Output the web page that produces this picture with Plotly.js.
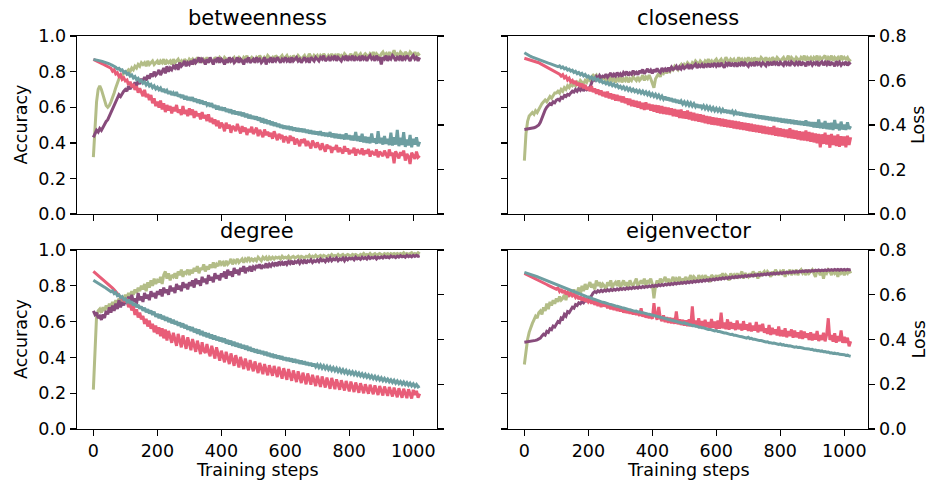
<!DOCTYPE html>
<html>
<head>
<meta charset="utf-8">
<script src="https://cdn.plot.ly/plotly-3.0.1.min.js"></script>
<style>
html,body{margin:0;padding:0;background:#fff;}
#chart{width:930px;height:484px;}
</style>
</head>
<body>
<div id="chart"></div>
<script>
// ---------- data ----------
const panelTitles = ["betweenness", "closeness", "degree", "eigenvector"];
const xTickVals = [0, 200, 400, 600, 800, 1000];
const accTickVals = [0.0, 0.2, 0.4, 0.6, 0.8, 1.0];
const lossTickVals = [0.0, 0.2, 0.4, 0.6, 0.8];

// training steps at which values were read (every 5 steps)
const steps = [0,5,10,15,20,25,30,35,40,45,50,55,60,65,70,75,80,85,90,95,100,105,110,115,120,125,130,135,140,145,150,155,160,165,170,175,180,185,190,195,200,205,210,215,220,225,230,235,240,245,250,255,260,265,270,275,280,285,290,295,300,305,310,315,320,325,330,335,340,345,350,355,360,365,370,375,380,385,390,395,400,405,410,415,420,425,430,435,440,445,450,455,460,465,470,475,480,485,490,495,500,505,510,515,520,525,530,535,540,545,550,555,560,565,570,575,580,585,590,595,600,605,610,615,620,625,630,635,640,645,650,655,660,665,670,675,680,685,690,695,700,705,710,715,720,725,730,735,740,745,750,755,760,765,770,775,780,785,790,795,800,805,810,815,820,825,830,835,840,845,850,855,860,865,870,875,880,885,890,895,900,905,910,915,920,925,930,935,940,945,950,955,960,965,970,975,980,985,990,995,1000,1005,1010,1015,1020];

// ---- betweenness ----
const accTrainBetweenness = [.32,.50,.63,.70,.72,.70,.67,.64,.61,.60,.61, .63,.65,.68,.71,.74,.76,.77,.78,.79,.80, .80,.81,.80,.82,.81,.83,.82,.84,.83,.85,
 .84,.85,.83,.86,.84,.85,.86,.84,.85,.86, .84,.86,.85,.87,.84,.86,.85,.86,.84,.87, .85,.86,.87,.85,.86,.84,.87,.86,.85,.87,
 .86,.87,.85,.86,.88,.86,.87,.85,.87,.86, .88,.86,.87,.86,.85,.88,.87,.86,.88,.87, .86,.88,.87,.85,.88,.86,.87,.88,.86,.87,
 .88,.87,.86,.88,.87,.89,.86,.87,.88,.87, .86,.88,.87,.89,.87,.86,.88,.87,.89,.88, .87,.88,.86,.89,.88,.87,.88,.89,.87,.88,
 .89,.87,.88,.86,.89,.88,.87,.89,.88,.87, .88,.89,.87,.88,.90,.88,.87,.89,.88,.89, .87,.89,.88,.90,.88,.87,.89,.88,.90,.88,
 .89,.87,.90,.88,.89,.88,.90,.89,.87,.89, .90,.88,.89,.91,.88,.89,.90,.88,.89,.90, .89,.88,.90,.89,.91,.88,.90,.89,.88,.90,
 .91,.89,.90,.88,.91,.89,.90,.92,.89,.90, .89,.91,.90,.88,.91,.90,.89,.91,.90,.89, .91,.89,.90,.89];
const accValBetweenness = [.43,.45,.47,.46,.48,.47,.49,.50,.52,.53,.55, .57,.59,.61,.64,.65,.67,.66,.68,.69,.70, .69,.72,.70,.73,.71,.74,.72,.75,.73,.76,
 .74,.77,.75,.78,.76,.79,.77,.80,.78,.79, .81,.78,.80,.82,.79,.83,.80,.82,.81,.83, .82,.84,.81,.85,.83,.84,.86,.83,.85,.84,
 .86,.84,.87,.85,.86,.88,.85,.87,.86,.84, .87,.85,.88,.86,.84,.87,.86,.88,.85,.87, .86,.84,.87,.85,.88,.86,.87,.85,.86,.88,
 .85,.87,.86,.84,.87,.86,.88,.85,.86,.87, .85,.88,.86,.87,.85,.86,.88,.84,.87,.86, .88,.85,.87,.86,.88,.86,.85,.87,.86,.88,
 .86,.87,.85,.88,.86,.87,.88,.86,.87,.85, .87,.88,.86,.87,.85,.88,.87,.86,.88,.87, .86,.88,.87,.89,.86,.87,.88,.86,.88,.87,
 .89,.86,.88,.87,.86,.88,.87,.89,.86,.88, .87,.89,.86,.88,.87,.88,.86,.89,.87,.88, .86,.88,.89,.87,.88,.86,.89,.87,.88,.84,
 .88,.87,.89,.86,.88,.87,.89,.88,.86,.88, .87,.89,.86,.88,.87,.89,.87,.86,.88,.89, .87,.88,.86,.88];
const lossTrainBetweenness = [.695,.692,.689,.685,.682,.678,.674,.670,.666,.661,.656, .655,.642,.648,.630,.635,.618,.626,.605,.612,.598, .602,.580,.595,.570,.585,.558,.575,.545,.565,.548,
 .530,.558,.525,.540,.512,.535,.498,.520,.485,.505, .478,.510,.470,.498,.458,.490,.465,.485,.452,.480, .462,.490,.455,.470,.445,.485,.450,.468,.440,.475,
 .445,.470,.432,.462,.440,.452,.425,.458,.430,.445, .418,.448,.412,.432,.405,.425,.395,.420,.385,.410, .398,.372,.410,.385,.402,.365,.395,.388,.372,.405,
 .380,.362,.395,.370,.388,.355,.382,.368,.392,.360, .372,.388,.350,.378,.362,.345,.380,.355,.370,.348, .365,.338,.372,.350,.332,.360,.345,.355,.322,.348,
 .340,.318,.352,.330,.345,.312,.338,.325,.305,.335, .320,.338,.305,.328,.312,.295,.330,.310,.298,.322, .305,.288,.318,.298,.280,.312,.295,.305,.275,.300,
 .290,.310,.278,.298,.285,.272,.305,.282,.295,.268, .288,.275,.298,.262,.290,.280,.270,.295,.265,.285, .272,.292,.258,.282,.275,.265,.290,.255,.280,.270,
 .260,.285,.268,.252,.290,.262,.275,.228,.282,.265, .250,.278,.262,.285,.240,.270,.258,.225,.275,.262, .248,.280,.255,.262];
const lossValBetweenness = [.695,.694,.692,.690,.689,.687,.685,.683,.681,.678,.675, .671,.668,.662,.660,.652,.655,.645,.648,.636,.640, .628,.632,.620,.625,.612,.618,.604,.610,.596,.600,
 .588,.594,.580,.590,.575,.582,.568,.576,.562,.570, .558,.566,.550,.562,.545,.555,.540,.552,.535,.545, .532,.548,.528,.538,.522,.535,.515,.530,.512,.525,
 .510,.525,.505,.518,.500,.514,.496,.510,.492,.505, .490,.500,.482,.498,.478,.490,.470,.486,.468,.480, .465,.478,.460,.472,.455,.470,.450,.465,.448,.460,
 .445,.458,.440,.455,.435,.450,.430,.446,.428,.440, .425,.438,.420,.434,.412,.430,.408,.425,.405,.420, .400,.415,.396,.410,.392,.405,.388,.400,.384,.396,
 .382,.395,.378,.392,.375,.388,.372,.386,.370,.384, .368,.382,.365,.378,.362,.376,.360,.372,.358,.370, .355,.372,.352,.366,.350,.364,.348,.368,.345,.362,
 .342,.360,.340,.358,.338,.356,.335,.362,.336,.354, .332,.352,.330,.368,.328,.350,.325,.360,.322,.348, .320,.345,.318,.362,.322,.340,.315,.372,.318,.342,
 .312,.350,.315,.338,.310,.365,.308,.345,.312,.378, .305,.342,.310,.368,.302,.335,.308,.355,.300,.338, .312,.345,.305,.325];

// ---- closeness ----
const accTrainCloseness = [.30,.45,.52,.55,.56,.57,.56,.58,.57,.59,.60, .62,.63,.64,.63,.65,.66,.65,.67,.68,.68, .69,.68,.70,.69,.71,.70,.72,.71,.73,.72,
 .73,.72,.74,.73,.75,.74,.73,.75,.74,.76, .75,.77,.78,.77,.78,.76,.77,.75,.76,.77, .75,.76,.74,.77,.75,.76,.74,.76,.75,.77,
 .74,.76,.75,.77,.74,.76,.75,.77,.76,.75, .77,.75,.76,.78,.75,.77,.76,.78,.76,.73, .71,.76,.78,.79,.77,.80,.79,.81,.79,.81,
 .80,.82,.81,.83,.82,.81,.83,.84,.82,.84, .83,.85,.84,.83,.85,.84,.86,.85,.84,.86, .85,.84,.86,.85,.87,.85,.86,.84,.86,.87,
 .85,.86,.87,.85,.86,.88,.86,.85,.87,.86, .87,.85,.86,.88,.86,.87,.85,.87,.86,.88, .86,.87,.85,.88,.86,.87,.86,.88,.87,.86,
 .88,.86,.87,.85,.88,.87,.86,.88,.87,.86, .87,.88,.86,.87,.89,.86,.88,.87,.86,.88, .87,.86,.88,.87,.89,.86,.88,.87,.88,.86,
 .88,.87,.89,.86,.88,.87,.88,.89,.86,.88, .87,.89,.86,.88,.87,.88,.86,.89,.87,.88, .87,.88,.86,.87];
const accValCloseness = [.475,.476,.478,.477,.480,.482,.484,.488,.492,.500,.515, .540,.560,.585,.600,.610,.620,.615,.630,.625,.640, .645,.638,.655,.650,.665,.660,.672,.668,.680,.690,
 .685,.700,.690,.705,.695,.710,.692,.706,.698,.704, .712,.735,.760,.752,.772,.760,.778,.765,.775,.770, .785,.768,.780,.792,.770,.785,.775,.795,.778,.788,
 .772,.795,.785,.800,.778,.792,.785,.805,.788,.796, .782,.805,.792,.812,.788,.800,.815,.795,.808,.790, .812,.798,.818,.802,.795,.820,.805,.815,.800,.822,
 .808,.825,.812,.818,.830,.810,.826,.815,.832,.818, .825,.835,.815,.838,.822,.830,.842,.820,.836,.828, .840,.822,.838,.830,.845,.825,.840,.832,.848,.830,
 .842,.828,.850,.835,.822,.846,.836,.852,.830,.844, .835,.850,.828,.845,.838,.855,.832,.848,.840,.830, .852,.838,.846,.832,.856,.840,.848,.835,.850,.842,
 .832,.855,.840,.848,.836,.858,.842,.850,.834,.852, .845,.835,.858,.840,.850,.832,.855,.845,.838,.852, .840,.858,.835,.850,.846,.830,.856,.842,.852,.836,
 .850,.842,.858,.832,.848,.855,.836,.852,.840,.860, .835,.850,.845,.830,.858,.840,.852,.836,.848,.842, .855,.835,.848,.840];
const lossTrainCloseness = [.700,.698,.696,.694,.692,.690,.688,.686,.683,.680,.676, .672,.670,.665,.662,.658,.654,.650,.646,.640,.636, .632,.628,.620,.626,.612,.618,.602,.610,.594,.600,
 .585,.598,.578,.590,.572,.585,.565,.580,.558,.570, .552,.575,.548,.565,.540,.560,.535,.555,.530,.548, .525,.550,.520,.542,.515,.538,.510,.535,.508,.530,
 .502,.528,.498,.520,.490,.518,.485,.512,.482,.508, .478,.505,.472,.500,.468,.502,.470,.495,.465,.492, .460,.490,.455,.488,.452,.485,.450,.480,.448,.478,
 .445,.475,.440,.472,.438,.468,.432,.470,.430,.462, .428,.465,.425,.458,.420,.455,.418,.450,.415,.448, .412,.445,.408,.440,.405,.438,.402,.435,.400,.432,
 .398,.430,.395,.428,.392,.425,.390,.422,.388,.420, .385,.418,.382,.415,.380,.412,.378,.410,.375,.408, .372,.405,.370,.402,.368,.400,.365,.398,.362,.395,
 .360,.392,.358,.390,.355,.395,.352,.388,.350,.385, .348,.382,.345,.380,.342,.385,.340,.378,.338,.375, .335,.372,.332,.370,.330,.375,.328,.368,.325,.365,
 .322,.362,.318,.360,.300,.358,.315,.365,.312,.355, .298,.360,.310,.352,.305,.358,.302,.350,.308,.348, .300,.352,.310,.345];
const lossValCloseness = [.725,.720,.715,.712,.708,.705,.702,.699,.696,.693,.690, .688,.685,.683,.680,.678,.676,.673,.671,.668,.666, .662,.666,.657,.661,.652,.656,.647,.651,.642,.646,
 .636,.641,.631,.636,.626,.632,.621,.627,.616,.620, .610,.616,.605,.612,.600,.606,.595,.601,.590,.594, .585,.592,.581,.588,.577,.584,.573,.580,.568,.574,
 .564,.572,.560,.568,.556,.565,.553,.561,.550,.557, .546,.555,.543,.552,.540,.549,.536,.546,.532,.541, .528,.538,.524,.534,.520,.530,.516,.527,.512,.523,
 .508,.520,.504,.516,.500,.512,.497,.508,.494,.504, .491,.502,.488,.499,.485,.496,.482,.493,.478,.490, .476,.487,.473,.484,.470,.481,.467,.478,.464,.475,
 .462,.473,.459,.470,.456,.468,.454,.466,.451,.462, .449,.460,.446,.458,.444,.456,.441,.453,.438,.450, .436,.449,.434,.447,.431,.444,.429,.442,.427,.440,
 .424,.438,.422,.436,.419,.434,.417,.432,.415,.430, .412,.428,.410,.426,.408,.424,.406,.422,.404,.420, .402,.418,.400,.416,.398,.420,.396,.414,.394,.412,
 .390,.412,.388,.425,.386,.410,.384,.418,.382,.408, .380,.410,.378,.422,.383,.405,.376,.415,.380,.402, .378,.412,.382,.395];

// ---- degree ----
const accTrainDegree = [.22,.40,.63,.66,.67,.65,.68,.66,.69,.67,.70, .68,.71,.69,.72,.70,.73,.71,.74,.72,.75, .73,.76,.74,.77,.75,.78,.76,.79,.77,.80,
 .78,.81,.77,.82,.79,.83,.80,.84,.81,.83, .82,.85,.81,.86,.88,.84,.87,.83,.86,.85, .87,.84,.88,.86,.89,.85,.88,.87,.89,.86,
 .89,.87,.90,.88,.91,.87,.90,.89,.92,.88, .91,.89,.92,.90,.93,.90,.92,.91,.94,.92, .93,.91,.94,.92,.93,.95,.92,.94,.93,.95,
 .93,.94,.95,.93,.95,.94,.96,.94,.95,.94, .95,.94,.96,.95,.94,.96,.95,.96,.94,.96, .95,.96,.95,.96,.955,.96,.95,.965,.955,.96,
 .955,.965,.95,.96,.965,.955,.96,.965,.955,.965, .96,.955,.965,.96,.97,.955,.965,.96,.97,.96, .965,.97,.96,.97,.965,.96,.97,.965,.975,.965,
 .97,.965,.975,.965,.97,.975,.965,.97,.975,.97, .965,.975,.97,.975,.97,.965,.975,.97,.98,.97, .975,.97,.98,.97,.975,.98,.97,.975,.98,.975,
 .97,.98,.975,.98,.97,.98,.975,.98,.975,.98, .975,.98,.975,.985,.975,.98,.975,.98,.985,.975, .98,.975,.985,.978];
const accValDegree = [.66,.64,.65,.62,.63,.61,.64,.62,.66,.64,.68, .65,.69,.66,.70,.67,.72,.68,.71,.69,.73, .70,.74,.69,.75,.71,.73,.70,.76,.72,.74,
 .71,.76,.73,.75,.72,.77,.74,.76,.73,.77, .75,.78,.74,.79,.76,.78,.75,.80,.77,.79, .76,.81,.78,.80,.77,.82,.79,.81,.78,.82,
 .80,.83,.79,.84,.81,.83,.80,.85,.82,.84, .81,.86,.83,.85,.82,.87,.84,.86,.83,.87, .85,.88,.84,.89,.86,.88,.85,.90,.87,.89,
 .86,.90,.88,.91,.87,.90,.89,.91,.88,.905, .895,.915,.90,.92,.895,.91,.905,.925,.90,.92, .91,.925,.915,.93,.91,.935,.92,.93,.915,.935,
 .92,.935,.925,.94,.92,.935,.93,.94,.925,.94, .93,.945,.925,.94,.935,.945,.93,.94,.935,.945, .935,.95,.94,.945,.935,.95,.94,.955,.94,.95,
 .945,.955,.94,.95,.945,.955,.94,.955,.945,.955, .95,.955,.945,.96,.95,.955,.948,.96,.952,.958, .95,.962,.952,.958,.955,.962,.95,.96,.955,.962,
 .955,.965,.958,.962,.956,.966,.96,.964,.958,.966, .96,.968,.962,.966,.96,.97,.963,.968,.962,.97, .964,.97,.965,.968];
const lossTrainDegree = [.705,.699,.693,.687,.681,.675,.669,.663,.657,.651,.645, .638,.630,.622,.614,.605,.598,.588,.582,.572,.570, .575,.545,.560,.530,.548,.510,.535,.498,.520,.490,
 .505,.470,.492,.458,.485,.448,.470,.432,.462,.425, .455,.415,.450,.405,.445,.395,.438,.412,.385,.430, .402,.372,.425,.390,.365,.418,.382,.358,.410,.375,
 .352,.402,.368,.345,.395,.360,.335,.388,.350,.340, .380,.345,.325,.372,.338,.315,.365,.330,.305,.350, .322,.298,.345,.315,.290,.338,.305,.282,.330,.298,
 .275,.322,.292,.268,.315,.285,.262,.308,.280,.258, .302,.275,.250,.295,.268,.245,.290,.262,.240,.285, .258,.238,.282,.252,.232,.278,.248,.225,.272,.242,
 .220,.268,.238,.215,.262,.232,.210,.258,.228,.205, .252,.225,.200,.248,.220,.198,.242,.215,.192,.238, .212,.188,.235,.208,.185,.230,.205,.180,.228,.200,
 .178,.222,.198,.175,.218,.192,.172,.215,.188,.168, .212,.185,.165,.208,.182,.162,.205,.180,.160,.200, .178,.158,.198,.175,.155,.195,.172,.152,.192,.170,
 .150,.190,.168,.148,.188,.165,.145,.185,.162,.142, .182,.160,.140,.180,.158,.138,.178,.155,.136,.175, .152,.170,.140,.158];
const lossValDegree = [.665,.661,.656,.652,.647,.643,.638,.634,.629,.625,.620, .614,.618,.605,.610,.596,.600,.588,.592,.578,.582, .568,.578,.560,.570,.552,.562,.545,.555,.538,.548,
 .528,.542,.522,.535,.516,.530,.510,.524,.502,.515, .495,.512,.490,.505,.484,.500,.478,.494,.472,.488, .468,.482,.462,.476,.455,.472,.450,.465,.444,.458,
 .438,.455,.432,.448,.426,.445,.420,.438,.415,.432, .410,.428,.405,.422,.400,.418,.396,.412,.392,.408, .388,.405,.382,.398,.378,.395,.372,.390,.368,.385,
 .364,.380,.360,.375,.355,.372,.350,.366,.346,.360, .342,.356,.338,.352,.335,.348,.330,.345,.326,.340, .322,.336,.318,.332,.315,.328,.312,.325,.308,.320,
 .305,.318,.302,.315,.298,.312,.296,.308,.292,.305, .290,.302,.286,.298,.284,.295,.280,.292,.278,.288, .275,.286,.272,.283,.269,.280,.266,.277,.263,.274,
 .260,.271,.257,.268,.254,.265,.251,.262,.248,.258, .246,.256,.243,.253,.240,.250,.237,.247,.234,.244, .231,.241,.228,.238,.225,.235,.222,.232,.219,.229,
 .216,.226,.214,.223,.211,.220,.208,.218,.205,.215, .203,.212,.200,.210,.198,.207,.195,.205,.193,.202, .190,.199,.188,.192];

// ---- eigenvector ----
const accTrainEigenvector = [.36,.44,.50,.54,.57,.59,.61,.63,.62,.65,.66, .64,.68,.66,.70,.67,.71,.69,.72,.70,.73, .71,.74,.72,.73,.75,.72,.76,.74,.77,.75,
 .78,.74,.77,.79,.75,.80,.77,.81,.78,.80, .82,.79,.81,.78,.83,.80,.82,.79,.81,.80, .78,.82,.80,.83,.79,.81,.82,.80,.83,.79,
 .81,.83,.80,.82,.79,.83,.81,.80,.82,.84, .80,.82,.83,.81,.84,.80,.83,.82,.84,.81, .73,.80,.83,.81,.84,.82,.83,.85,.82,.84,
 .81,.83,.85,.82,.84,.83,.85,.81,.84,.83, .85,.82,.84,.86,.83,.85,.84,.82,.86,.84, .85,.83,.86,.84,.85,.82,.86,.85,.84,.86,
 .83,.86,.85,.87,.84,.86,.85,.83,.87,.85, .86,.84,.87,.85,.86,.88,.84,.87,.86,.85, .87,.85,.88,.86,.87,.84,.88,.86,.87,.88,
 .86,.88,.87,.85,.88,.86,.89,.87,.86,.88, .87,.89,.85,.88,.87,.89,.86,.88,.87,.89, .86,.88,.89,.87,.88,.86,.89,.87,.88,.89,
 .87,.85,.89,.88,.86,.89,.84,.88,.87,.89, .88,.86,.89,.87,.88,.85,.89,.87,.88,.86, .88,.87,.89,.87];
const accValEigenvector = [.485,.486,.487,.488,.490,.491,.493,.495,.498,.502,.508, .520,.530,.525,.545,.540,.560,.555,.575,.570,.590, .600,.595,.620,.615,.640,.630,.655,.650,.670,.680,
 .675,.695,.690,.705,.700,.712,.705,.718,.715,.725, .730,.745,.760,.768,.762,.772,.766,.775,.768,.776, .770,.778,.772,.780,.774,.781,.776,.783,.777,.784,
 .779,.786,.780,.788,.782,.789,.784,.791,.786,.792, .787,.794,.789,.796,.791,.797,.793,.799,.795,.801, .796,.803,.798,.805,.800,.807,.802,.809,.804,.811,
 .806,.813,.808,.815,.810,.816,.812,.818,.814,.820, .815,.822,.817,.824,.819,.826,.821,.828,.823,.830, .825,.832,.827,.834,.829,.836,.831,.838,.833,.840,
 .835,.842,.837,.844,.839,.846,.841,.848,.843,.850, .845,.852,.847,.853,.849,.855,.851,.857,.852,.858, .854,.860,.855,.862,.857,.863,.859,.865,.860,.866,
 .862,.868,.863,.869,.865,.871,.866,.872,.868,.873, .869,.875,.871,.876,.872,.878,.874,.879,.875,.880, .876,.882,.878,.883,.879,.884,.880,.885,.881,.886,
 .882,.887,.883,.888,.884,.888,.885,.889,.885,.890, .886,.890,.886,.891,.887,.891,.887,.892,.888,.892, .888,.892,.889,.891];
const lossTrainEigenvector = [.695,.692,.688,.685,.681,.678,.674,.671,.667,.664,.660, .656,.653,.649,.646,.642,.639,.635,.632,.628,.625, .630,.615,.625,.608,.620,.602,.612,.598,.608,.595,
 .602,.588,.598,.580,.592,.575,.588,.570,.582,.568, .578,.560,.575,.555,.570,.550,.568,.545,.565,.548, .560,.540,.558,.535,.552,.532,.548,.528,.545,.525,
 .542,.520,.538,.518,.535,.515,.532,.512,.528,.510, .525,.505,.540,.502,.520,.498,.515,.495,.512,.492, .562,.510,.488,.545,.495,.482,.508,.478,.500,.475,
 .498,.472,.495,.470,.525,.468,.490,.465,.488,.462, .485,.460,.490,.458,.548,.462,.485,.455,.495,.452, .482,.450,.488,.455,.478,.448,.492,.452,.480,.446,
 .485,.448,.520,.450,.475,.446,.490,.444,.478,.448, .472,.442,.485,.446,.470,.440,.482,.444,.468,.438, .475,.436,.462,.440,.478,.432,.465,.438,.470,.430,
 .450,.425,.465,.420,.452,.424,.445,.418,.458,.415, .442,.414,.450,.410,.438,.416,.445,.408,.440,.410, .432,.405,.440,.402,.435,.408,.428,.398,.432,.396,
 .425,.400,.438,.393,.420,.398,.430,.392,.422,.495, .398,.420,.390,.428,.386,.415,.392,.440,.385,.412, .385,.408,.370,.392];
const lossValEigenvector = [.700,.698,.696,.693,.691,.688,.686,.683,.681,.678,.675, .673,.669,.667,.663,.661,.657,.655,.651,.648,.645, .643,.639,.637,.633,.630,.627,.624,.621,.618,.615,
 .613,.609,.607,.603,.601,.598,.596,.593,.591,.590, .586,.584,.581,.579,.576,.574,.571,.569,.566,.565, .562,.561,.558,.557,.554,.553,.550,.549,.546,.545,
 .542,.541,.538,.537,.534,.533,.530,.529,.526,.527, .523,.524,.520,.520,.517,.517,.514,.513,.511,.510, .507,.506,.503,.502,.499,.498,.495,.494,.491,.491,
 .488,.487,.484,.483,.480,.480,.477,.476,.473,.475, .470,.470,.466,.466,.462,.463,.459,.459,.455,.456, .452,.452,.449,.448,.445,.445,.442,.441,.438,.440,
 .436,.436,.433,.432,.429,.429,.426,.425,.422,.423, .419,.419,.416,.415,.413,.412,.409,.409,.406,.410, .404,.405,.401,.401,.398,.398,.395,.395,.392,.392,
 .389,.390,.386,.386,.383,.384,.381,.381,.378,.380, .376,.377,.373,.374,.371,.372,.369,.369,.366,.367, .364,.365,.362,.362,.360,.360,.357,.358,.355,.356,
 .352,.353,.350,.351,.348,.349,.345,.346,.343,.344, .340,.341,.338,.339,.336,.337,.334,.334,.331,.332, .329,.330,.327,.325];

const accTrain = [accTrainBetweenness, accTrainCloseness, accTrainDegree, accTrainEigenvector];
const accVal = [accValBetweenness, accValCloseness, accValDegree, accValEigenvector];
const lossTrain = [lossTrainBetweenness, lossTrainCloseness, lossTrainDegree, lossTrainEigenvector];
const lossVal = [lossValBetweenness, lossValCloseness, lossValDegree, lossValEigenvector];

// ---------- styling ----------
const COL_ACC_TRAIN = '#b3bd87';
const COL_ACC_VAL = '#874b7b';
const COL_LOSS_TRAIN = '#e85d78';
const COL_LOSS_VAL = '#6d9ea1';
const LW = 3.0;
const FONT = 'DejaVu Sans, Liberation Sans, sans-serif';
const TICK_SIZE = 17.5;
const TITLE_SIZE = 21;

const W = 930, H = 484;
// panel boxes in px: [left, right, top, bottom]
const boxes = [
  [77, 437, 36, 214],
  [508, 868, 36, 214],
  [77, 437, 250, 429],
  [508, 868, 250, 429]
];

const traces = [];
const layout = {
  width: W, height: H,
  margin: {l: 0, r: 0, t: 0, b: 0},
  paper_bgcolor: '#ffffff',
  plot_bgcolor: 'rgba(0,0,0,0)',
  showlegend: false,
  font: {family: FONT, size: TICK_SIZE, color: '#000'},
  annotations: []
};

function axisCommon() {
  return {
    showgrid: false, zeroline: false,
    showline: true, linecolor: '#000', linewidth: 1.4,
    ticks: 'outside', ticklen: 6, tickwidth: 1.4, tickcolor: '#000',
    tickfont: {family: FONT, size: TICK_SIZE, color: '#000'},
    fixedrange: true
  };
}

for (let p = 0; p < 4; p++) {
  const [l, r, t, b] = boxes[p];
  const xName = p === 0 ? 'x' : 'x' + (p + 1);
  const xKey = p === 0 ? 'xaxis' : 'xaxis' + (p + 1);
  const yLName = p === 0 ? 'y' : 'y' + (2 * p + 1);
  const yLKey = p === 0 ? 'yaxis' : 'yaxis' + (2 * p + 1);
  const yRName = 'y' + (2 * p + 2);
  const yRKey = 'yaxis' + (2 * p + 2);

  const isLeftCol = (p % 2 === 0);
  const isBottomRow = (p >= 2);

  layout[xKey] = Object.assign(axisCommon(), {
    domain: [l / W, r / W],
    anchor: yLName,
    range: [-51.15, 1074.15],
    tickvals: xTickVals,
    ticktext: xTickVals.map(String),
    showticklabels: isBottomRow,
    mirror: true
  });
  layout[yLKey] = Object.assign(axisCommon(), {
    domain: [(H - b) / H, (H - t) / H],
    anchor: xName,
    range: [0, 1],
    tickvals: accTickVals,
    ticktext: accTickVals.map(v => v.toFixed(1)),
    showticklabels: isLeftCol,
    side: 'left'
  });
  layout[yRKey] = Object.assign(axisCommon(), {
    overlaying: yLName,
    anchor: xName,
    side: 'right',
    range: [0, 0.8],
    tickvals: lossTickVals,
    ticktext: lossTickVals.map(v => v.toFixed(1)),
    showticklabels: !isLeftCol
  });

  traces.push({x: steps, y: accTrain[p], xaxis: xName, yaxis: yLName, type: 'scatter', mode: 'lines',
    line: {color: COL_ACC_TRAIN, width: LW}, hoverinfo: 'skip'});
  traces.push({x: steps, y: accVal[p], xaxis: xName, yaxis: yLName, type: 'scatter', mode: 'lines',
    line: {color: COL_ACC_VAL, width: LW}, hoverinfo: 'skip'});
  traces.push({x: steps, y: lossTrain[p], xaxis: xName, yaxis: yRName, type: 'scatter', mode: 'lines',
    line: {color: COL_LOSS_TRAIN, width: LW}, hoverinfo: 'skip'});
  traces.push({x: steps, y: lossVal[p], xaxis: xName, yaxis: yRName, type: 'scatter', mode: 'lines',
    line: {color: COL_LOSS_VAL, width: LW}, hoverinfo: 'skip'});

  // panel title
  const titleCenterY = p < 2 ? 18 : 231;
  layout.annotations.push({
    text: panelTitles[p], xref: 'paper', yref: 'paper',
    x: (l + r) / 2 / W, y: (H - titleCenterY) / H,
    xanchor: 'center', yanchor: 'middle', showarrow: false,
    font: {family: FONT, size: TITLE_SIZE, color: '#000'}
  });
  // y axis titles
  if (isLeftCol) {
    layout.annotations.push({
      text: 'Accuracy', xref: 'paper', yref: 'paper',
      x: 20.5 / W, y: (H - (t + b) / 2) / H, textangle: -90,
      xanchor: 'center', yanchor: 'middle', showarrow: false,
      font: {family: FONT, size: TICK_SIZE, color: '#000'}
    });
  } else {
    layout.annotations.push({
      text: 'Loss', xref: 'paper', yref: 'paper',
      x: 918 / W, y: (H - (t + b) / 2) / H, textangle: -90,
      xanchor: 'center', yanchor: 'middle', showarrow: false,
      font: {family: FONT, size: TICK_SIZE, color: '#000'}
    });
  }
  if (isBottomRow) {
    layout.annotations.push({
      text: 'Training steps', xref: 'paper', yref: 'paper',
      x: (l + r) / 2 / W, y: (H - 470) / H,
      xanchor: 'center', yanchor: 'middle', showarrow: false,
      font: {family: FONT, size: TICK_SIZE, color: '#000'}
    });
  }
}

Plotly.newPlot('chart', traces, layout, {staticPlot: true, displayModeBar: false});
</script>
</body>
</html>
